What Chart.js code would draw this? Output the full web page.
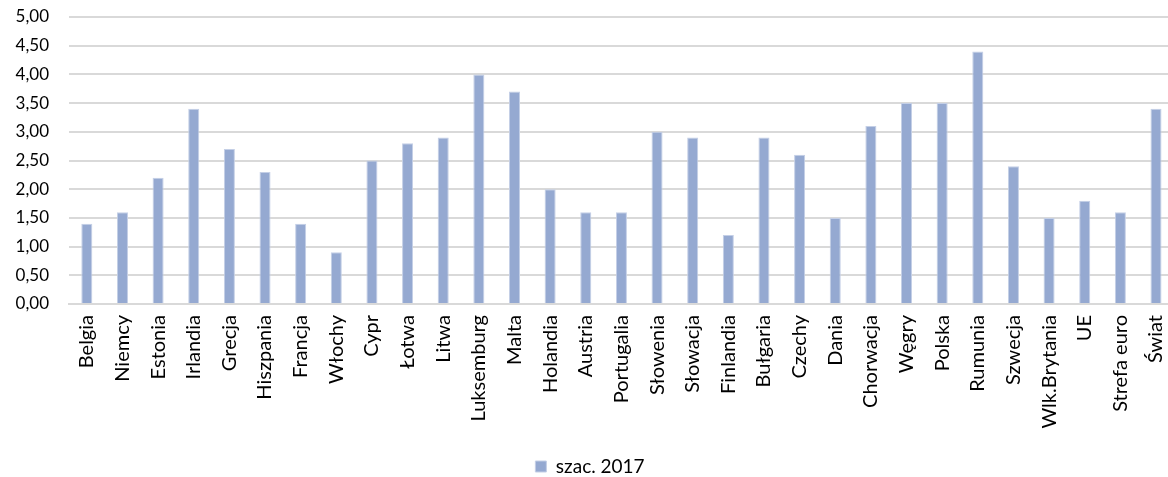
<!DOCTYPE html>
<html>
<head>
<meta charset="utf-8">
<script src="https://cdn.jsdelivr.net/npm/chart.js@4"></script>
<style>
    html, body { margin: 0; padding: 0; background: #fff; overflow: hidden; }
    #wykres { display: block; }
</style>
</head>
<body>
<canvas id="wykres" width="1180" height="486"></canvas>
<script>
const kraje = ["Belgia", "Niemcy", "Estonia", "Irlandia", "Grecja", "Hiszpania", "Francja", "Włochy", "Cypr", "Łotwa",
    "Litwa", "Luksemburg", "Malta", "Holandia", "Austria", "Portugalia", "Słowenia", "Słowacja", "Finlandia", "Bułgaria",
    "Czechy", "Dania", "Chorwacja", "Węgry", "Polska", "Rumunia", "Szwecja", "Wlk.Brytania", "UE", "Strefa euro", "Świat"];
const szac2017 = [1.4, 1.6, 2.2, 3.4, 2.7, 2.3, 1.4, 0.9, 2.5, 2.8,
    2.9, 4.0, 3.7, 2.0, 1.6, 1.6, 3.0, 2.9, 1.2, 2.9,
    2.6, 1.5, 3.1, 3.5, 3.5, 4.4, 2.4, 1.5, 1.8, 1.6, 3.4];
const etykietaSerii = "szac. 2017";

function rysuj() {
    const ctx = document.getElementById("wykres").getContext("2d");
    const rodzina = "Lato, 'Open Sans', sans-serif";
    Chart.defaults.font.family = rodzina;
    Chart.defaults.font.size = 17;
    Chart.defaults.color = "#000";

    new Chart(ctx, {
        type: "bar",
        data: {
            labels: kraje,
            datasets: [{
                label: etykietaSerii,
                data: szac2017,
                backgroundColor: "#95a9d1",
                borderColor: "#c4cfe6",
                borderWidth: 1,
                barPercentage: 0.31,
                categoryPercentage: 1
            }]
        },
        options: {
            responsive: false,
            animation: false,
            layout: { padding: { top: 17, right: 0, bottom: 0, left: 0 } },
            plugins: {
                tooltip: { enabled: false },
                legend: {
                    position: "bottom",
                    labels: {
                        boxWidth: 11, boxHeight: 11, padding: 1,
                        font: { family: rodzina, size: 19, lineHeight: 1 }
                    }
                }
            },
            scales: {
                x: {
                    // ticks padding would also pad the plot on the right, so tickLength gives the gap
                    grid: { color: "transparent", tickColor: "transparent", drawTicks: true, tickLength: 11 },
                    border: { color: "#d9d9d9", width: 2 },
                    ticks: {
                        minRotation: 90, maxRotation: 90, padding: 0, autoSkip: false,
                        font: { family: rodzina, size: 20 }
                    },
                    afterFit: (scale) => { scale.height = 152; }
                },
                y: {
                    min: 0,
                    max: 5,
                    grid: { color: "#d9d9d9", lineWidth: 2, drawTicks: true, tickLength: 20, tickColor: "transparent" },
                    border: { display: false },
                    ticks: {
                        stepSize: 0.5,
                        padding: 0,
                        font: { family: rodzina, size: 17 },
                        callback: (v) => v.toFixed(2).replace(".", ",")
                    },
                    afterFit: (scale) => { scale.width = 69; }
                }
            }
        }
    });
}

window.onload = () => {
    Promise.all([document.fonts.load("17px Lato"), document.fonts.load("20px Lato")])
        .then(rysuj, rysuj);
};
</script>
</body>
</html>
